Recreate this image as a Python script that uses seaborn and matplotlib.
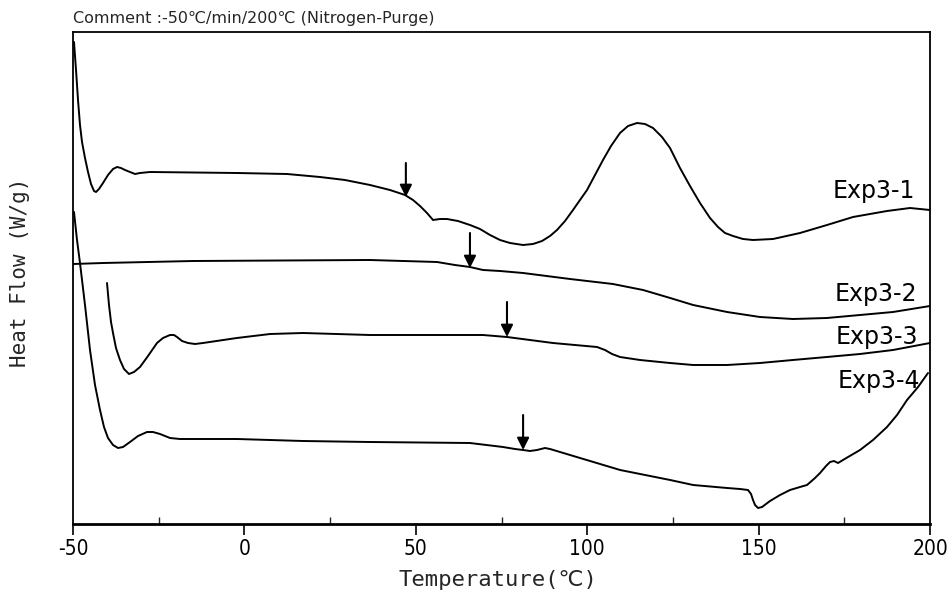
import numpy as np
import pandas as pd
import matplotlib
matplotlib.use("Agg")
import matplotlib.pyplot as plt
import seaborn as sns
from matplotlib.ticker import MultipleLocator

# ---------------- data ----------------
exp1_T = [-49.71, -49.12, -48.54, -47.96, -47.37, -46.50, -45.62, -44.75, -43.87, -43.29,
          -42.42, -41.25, -39.79, -38.33, -37.16, -36.00, -34.83, -33.37, -31.91, -30.45,
          -27.54, -2.16, 12.43, 22.05, 29.35, 36.64, 42.47, 46.85, 49.18, 51.23, 53.27,
          55.02, 57.06, 59.10, 62.31, 65.81, 68.73, 71.65, 74.57, 77.48, 81.27, 84.19,
          86.82, 89.15, 91.19, 93.53, 95.86, 97.90, 99.95, 102.28, 104.61, 106.95, 109.57,
          111.91, 114.53, 116.86, 119.20, 121.82, 124.16, 127.07, 129.99, 132.91, 135.83,
          138.16, 140.20, 142.54, 145.45, 148.37, 154.20, 162.08, 169.96, 177.54, 187.46,
          194.17, 200.00]
exp1_H = [4.82, 4.54, 4.24, 3.99, 3.82, 3.66, 3.52, 3.40, 3.33, 3.32,
          3.35, 3.41, 3.49, 3.55, 3.57, 3.56, 3.54, 3.52, 3.50, 3.51,
          3.52, 3.51, 3.50, 3.47, 3.44, 3.39, 3.34, 3.29, 3.24, 3.18, 3.11,
          3.04, 3.05, 3.05, 3.03, 2.99, 2.95, 2.89, 2.84, 2.81, 2.79, 2.80,
          2.83, 2.88, 2.94, 3.03, 3.14, 3.24, 3.34, 3.49, 3.64, 3.78, 3.91,
          3.98, 4.01, 4.00, 3.96, 3.87, 3.76, 3.56, 3.38, 3.21, 3.06,
          2.97, 2.91, 2.88, 2.85, 2.84, 2.85, 2.91, 2.99, 3.07, 3.13,
          3.16, 3.14]

exp2_T = [-50.0, -41.2, -15.0, 36.6, 56.2, 61.4, 65.8, 69.6, 74.6, 81.3, 95.0, 107.5,
          116.3, 124.2, 130.9, 140.8, 150.4, 160.0, 169.9, 179.6, 189.2, 200.0]
exp2_H = [2.60, 2.61, 2.63, 2.64, 2.62, 2.59, 2.57, 2.54, 2.53, 2.51, 2.45, 2.40,
          2.34, 2.26, 2.19, 2.12, 2.07, 2.05, 2.06, 2.09, 2.12, 2.18]

exp3_T = [-40.08, -39.50, -38.91, -38.33, -37.46, -36.29, -35.12, -33.66, -32.21, -30.45,
          -28.12, -25.50, -23.75, -21.70, -20.54, -19.66, -18.20, -16.45, -14.41, -12.08,
          -2.2, 7.5, 17.1, 36.6, 69.6, 76.6, 90.0, 102.86, 105.19, 107.24, 109.57, 115.41,
          124.16, 130.9, 140.8, 150.4, 160.0, 169.9, 179.6, 189.2, 200.0]
exp3_H = [2.41, 2.19, 2.02, 1.91, 1.76, 1.64, 1.55, 1.50, 1.52, 1.57,
          1.68, 1.81, 1.86, 1.89, 1.89, 1.87, 1.83, 1.81, 1.80, 1.81,
          1.86, 1.90, 1.91, 1.89, 1.89, 1.87, 1.81, 1.77, 1.74, 1.70, 1.67, 1.64,
          1.61, 1.59, 1.59, 1.61, 1.64, 1.67, 1.70, 1.74, 1.81]

exp4_T = [-49.71, -48.83, -47.96, -46.50, -45.04, -43.58, -42.12, -40.96, -39.79, -38.33,
          -36.87, -35.41, -33.37, -31.03, -28.41, -26.66, -24.62, -21.70, -18.78, -2.2,
          17.1, 36.6, 65.8, 75.43, 78.94, 81.27, 83.32, 85.36, 87.69, 89.15, 92.07, 94.99,
          109.6, 124.2, 130.9, 140.8, 144.58, 146.91, 147.79, 148.37, 148.96, 149.83,
          151.00, 153.33, 156.25, 159.17, 162.08, 164.12, 166.46, 167.92, 169.67, 170.84,
          172.00, 173.17, 176.09, 179.59, 183.38, 187.46, 190.38, 193.30, 196.51, 199.42]
exp4_H = [3.12, 2.84, 2.61, 2.19, 1.74, 1.39, 1.14, 0.97, 0.86, 0.79,
          0.76, 0.77, 0.82, 0.88, 0.92, 0.92, 0.90, 0.86, 0.85, 0.85,
          0.83, 0.82, 0.81, 0.77, 0.75, 0.74, 0.73, 0.74, 0.76, 0.75, 0.72, 0.69,
          0.54, 0.44, 0.39, 0.36, 0.35, 0.34, 0.30, 0.24, 0.19, 0.16,
          0.17, 0.23, 0.29, 0.34, 0.37, 0.39, 0.46, 0.51, 0.58, 0.62,
          0.63, 0.61, 0.67, 0.74, 0.84, 0.97, 1.09, 1.24, 1.37, 1.51]

series_names = ["Exp3-1", "Exp3-2", "Exp3-3", "Exp3-4"]
label_T = [195.6, 196.2, 196.4, 197.1]
label_H = [3.33, 2.30, 1.87, 1.43]

# glass-transition arrows: temperature, arrow top, arrow tip
arrow_T = [47.1, 65.8, 76.6, 81.3]
arrow_top = [3.61, 2.91, 2.22, 1.09]
arrow_tip = [3.27, 2.56, 1.87, 0.74]

x_ticks = [-50, 0, 50, 100, 150, 200]
title_text = "Comment :-50\u2103/min/200\u2103 (Nitrogen-Purge)"
x_label = "Temperature(\u2103)"
y_label = "Heat Flow (W/g)"

# ---------------- plot ----------------
sns.set_theme(style="white")
plt.rcParams["font.family"] = ["DejaVu Sans"]

fig = plt.figure(figsize=(9.52, 5.97), dpi=100)
ax = fig.add_axes([73 / 952, 1 - 524 / 597, 857 / 952, 492 / 597])

curves = [(exp1_T, exp1_H), (exp2_T, exp2_H), (exp3_T, exp3_H), (exp4_T, exp4_H)]
for name, (T, H) in zip(series_names, curves):
    df = pd.DataFrame({"Temperature": T, "HeatFlow": H})
    sns.lineplot(data=df, x="Temperature", y="HeatFlow", color="black", lw=1.4,
                 sort=False, estimator=None, ax=ax)

for name, tx, ty in zip(series_names, label_T, label_H):
    ax.text(tx, ty, name, ha="right", va="center", fontsize=17, color="black",
            family=["DejaVu Sans"])

for tx, t0, t1 in zip(arrow_T, arrow_top, arrow_tip):
    ax.annotate("", xy=(tx, t1), xytext=(tx, t0),
                arrowprops=dict(arrowstyle="-|>", color="black", lw=1.5,
                                mutation_scale=18, shrinkA=0, shrinkB=0))

ax.set_xlim(-50, 200)
ax.set_ylim(0, 4.92)
ax.set_xticks(x_ticks)
ax.set_xticklabels([str(v) for v in x_ticks], family=["DejaVu Sans"],
                   stretch="condensed", fontsize=15)
ax.xaxis.set_minor_locator(MultipleLocator(25))
ax.tick_params(axis="x", which="major", direction="out", length=8, width=1.2,
               bottom=True, pad=3, colors="black")
ax.tick_params(axis="x", which="minor", direction="in", length=5, width=1.0,
               bottom=True)
ax.set_yticks([])

for side, sp in ax.spines.items():
    sp.set_visible(True)
    sp.set_color("black")
    sp.set_linewidth(1.3)
ax.spines["bottom"].set_linewidth(2.0)

ax.set_xlabel(x_label, fontsize=16, family=["DejaVu Sans Mono", "DejaVu Sans"])
ax.xaxis.set_label_coords(0.496, -0.093)
ax.set_ylabel(y_label, fontsize=15, family=["DejaVu Sans Mono", "DejaVu Sans"])
ax.yaxis.set_label_coords(-0.050, 0.512)

ax.text(0.0, 1.012, title_text, transform=ax.transAxes, ha="left", va="bottom",
        fontsize=11.5, family=["DejaVu Sans"])

fig.savefig("out.png", dpi=100)
